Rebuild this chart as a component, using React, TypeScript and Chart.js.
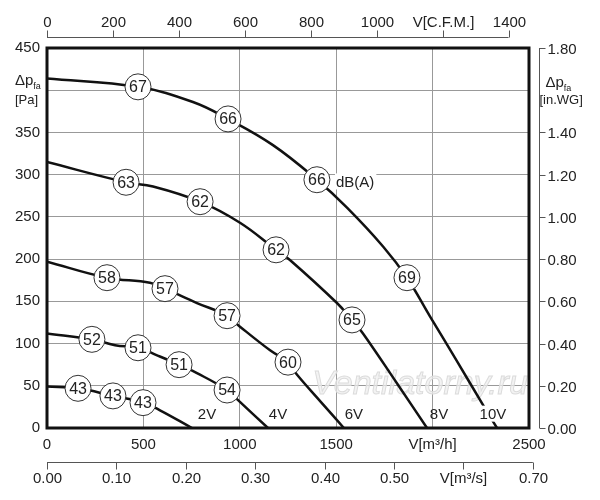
import React, { useEffect, useRef } from "react";
import { Chart, registerables } from "chart.js";

Chart.register(...registerables);

// Fan curves: air flow V [m³/h] against pressure Δp_fa [Pa], one curve per control voltage
const flow2V = [0, 161, 342, 498, 586, 752];
const pressure2V = [49, 47, 38, 30, 21, 0];
const flow4V = [0, 233, 353, 472, 571, 685, 778, 934, 991, 1146];
const pressure4V = [112, 105, 98, 95, 86, 75, 65, 45, 33, 0];
const flow6V = [0, 311, 534, 612, 778, 934, 1001, 1157, 1250, 1297, 1420, 1540];
const pressure6V = [197, 178, 172, 165, 148, 133, 120, 92, 78, 63, 31, 0];
const flow8V = [0, 410, 550, 794, 1001, 1188, 1260, 1504, 1582, 1639, 1815, 1971];
const pressure8V = [315, 291, 286, 268, 243, 211, 199, 148, 128, 112, 53, 0];
const flow10V = [0, 472, 757, 939, 1172, 1400, 1556, 1743, 1867, 1987, 2127, 2262, 2334];
const pressure10V = [414, 404, 386, 366, 335, 294, 261, 215, 178, 132, 79, 27, 0];

// sound level markers dB(A)
const dbLabelFlow = [472, 939, 1400, 1867, 410, 794, 1188, 1582, 311, 612, 934, 1250, 233, 472, 685, 934, 161, 342, 498];
const dbLabelPressure = [404, 366, 294, 178, 291, 268, 211, 128, 178, 165, 133, 78, 105, 95, 75, 45, 47, 38, 30];
const dbLabelValue = [67, 66, 66, 69, 63, 62, 62, 65, 58, 57, 57, 60, 52, 51, 51, 54, 43, 43, 43];

// voltage labels at the foot of each curve
const voltLabels = ["2V", "4V", "6V", "8V", "10V"];
const voltLabelFlow = [830, 1198, 1592, 2033, 2313];
const voltLabelPressure = 17;

// secondary axes
const cfmTicks = [0, 200, 400, 600, 800, 1000, 1200, 1400];
const m3sTicks = [0, 0.1, 0.2, 0.3, 0.4, 0.5, 0.6, 0.7];
const inwgTicks = [0, 0.2, 0.4, 0.6, 0.8, 1.0, 1.2, 1.4, 1.6, 1.8];
const M3H_PER_CFM = 1.71; // as plotted on the sheet
const M3H_PER_M3S = 3600;
const PA_PER_INWG = 250; // sheet aligns 0.20 in.WG with 50 Pa

const FONT = "Liberation Sans, Arial, sans-serif";
const TEXT = "#222";

const curves = [
  [flow2V, pressure2V],
  [flow4V, pressure4V],
  [flow6V, pressure6V],
  [flow8V, pressure8V],
  [flow10V, pressure10V],
];

const drawDp = (ctx, x, y) => {
  ctx.textAlign = "left";
  ctx.textBaseline = "middle";
  ctx.font = `15px ${FONT}`;
  ctx.fillText("Δp", x, y);
  const w = ctx.measureText("Δp").width;
  ctx.font = `9px ${FONT}`;
  ctx.fillText("fa", x + w, y + 5);
};

const overlay = {
  id: "overlay",
  beforeDatasetsDraw(chart) {
    const { ctx, chartArea, scales } = chart;
    ctx.save();
    // watermark
    ctx.font = `italic 34px ${FONT}`;
    ctx.textAlign = "center";
    ctx.textBaseline = "middle";
    const wx = scales.x.getPixelForValue(1935);
    const wy = scales.y.getPixelForValue(51);
    ctx.fillStyle = "rgba(238,238,238,0.7)";
    ctx.fillText("Ventilatorny.ru", wx, wy);
    ctx.strokeStyle = "#dcdcdc";
    ctx.lineWidth = 1;
    ctx.strokeText("Ventilatorny.ru", wx, wy);
    // heavy frame
    ctx.strokeStyle = "#111";
    ctx.lineWidth = 3;
    ctx.strokeRect(chartArea.left, chartArea.top, chartArea.right - chartArea.left, chartArea.bottom - chartArea.top);
    ctx.restore();
  },
  afterDatasetsDraw(chart) {
    const { ctx, scales } = chart;
    const xs = scales.x;
    const ys = scales.y;
    ctx.save();
    ctx.fillStyle = TEXT;
    ctx.textAlign = "center";
    ctx.textBaseline = "middle";
    ctx.font = `16px ${FONT}`;
    const meta = chart.getDatasetMeta(curves.length);
    meta.data.forEach((pt, i) => {
      ctx.fillText(String(dbLabelValue[i]), pt.x, pt.y + 1);
    });

    // "dB(A)" next to the third 10V marker
    ctx.font = `15px ${FONT}`;
    ctx.textAlign = "left";
    const dx = xs.getPixelForValue(1499);
    const dy = ys.getPixelForValue(292);
    const dw = ctx.measureText("dB(A)").width;
    ctx.fillStyle = "#fff";
    ctx.fillRect(dx - 1, dy - 8, dw + 3, 16);
    ctx.fillStyle = TEXT;
    ctx.fillText("dB(A)", dx, dy + 1);

    // voltage labels
    ctx.textAlign = "center";
    voltLabels.forEach((t, i) => {
      const px = xs.getPixelForValue(voltLabelFlow[i]);
      const py = ys.getPixelForValue(voltLabelPressure);
      if (t === "10V") {
        const w = ctx.measureText(t).width;
        ctx.fillStyle = "#fff";
        ctx.fillRect(px - w / 2 - 1, py - 8, w + 2, 16);
      }
      ctx.fillStyle = TEXT;
      ctx.fillText(t, px, py + 1);
    });
    ctx.restore();
  },
  afterDraw(chart) {
    const { ctx, chartArea, scales } = chart;
    const xs = scales.x;
    const ys = scales.y;
    ctx.save();
    ctx.strokeStyle = "#555";
    ctx.fillStyle = TEXT;
    ctx.lineWidth = 1;
    ctx.font = `15px ${FONT}`;

    // top axis V [C.F.M.]
    const topY = chartArea.top - 10.5;
    ctx.beginPath();
    ctx.moveTo(xs.getPixelForValue(0), topY);
    ctx.lineTo(xs.getPixelForValue(cfmTicks[cfmTicks.length - 1] * M3H_PER_CFM), topY);
    ctx.stroke();
    ctx.textAlign = "center";
    ctx.textBaseline = "middle";
    cfmTicks.forEach((v) => {
      const px = Math.round(xs.getPixelForValue(v * M3H_PER_CFM)) + 0.5;
      ctx.beginPath();
      ctx.moveTo(px, topY);
      ctx.lineTo(px, topY - 7);
      ctx.stroke();
      ctx.fillText(v === 1200 ? "V[C.F.M.]" : String(v), px, topY - 15);
    });

    // second bottom axis V [m³/s]
    const botY = chartArea.bottom + 34.5;
    ctx.beginPath();
    ctx.moveTo(xs.getPixelForValue(0), botY);
    ctx.lineTo(xs.getPixelForValue(m3sTicks[m3sTicks.length - 1] * M3H_PER_M3S), botY);
    ctx.stroke();
    m3sTicks.forEach((v) => {
      const px = Math.round(xs.getPixelForValue(v * M3H_PER_M3S)) + 0.5;
      ctx.beginPath();
      ctx.moveTo(px, botY);
      ctx.lineTo(px, botY + 7);
      ctx.stroke();
      ctx.fillText(Math.abs(v - 0.6) < 1e-9 ? "V[m³/s]" : v.toFixed(2), px, botY + 16);
    });

    // right axis Δp [in.WG]
    const rightX = chartArea.right + 10.5;
    ctx.beginPath();
    ctx.moveTo(rightX, ys.getPixelForValue(0));
    ctx.lineTo(rightX, ys.getPixelForValue(inwgTicks[inwgTicks.length - 1] * PA_PER_INWG));
    ctx.stroke();
    ctx.textAlign = "left";
    inwgTicks.forEach((v) => {
      const py = Math.round(ys.getPixelForValue(v * PA_PER_INWG)) + 0.5;
      if (Math.abs(v - 1.6) < 1e-9) return;
      ctx.beginPath();
      ctx.moveTo(rightX, py);
      ctx.lineTo(rightX + 6, py);
      ctx.stroke();
      ctx.fillText(v.toFixed(2), rightX + 8, py + 1);
    });

    // axis titles in place of the 400 Pa / 1.60 in.WG labels
    const tY = ys.getPixelForValue(400);
    drawDp(ctx, chartArea.left - 32, tY - 9);
    ctx.font = `13px ${FONT}`;
    ctx.fillText("[Pa]", chartArea.left - 32, tY + 10);
    drawDp(ctx, rightX + 6, tY - 7);
    ctx.font = `13px ${FONT}`;
    ctx.fillText("[in.WG]", rightX, tY + 10);
    ctx.restore();
  },
};

const App = () => {
  const canvasRef = useRef(null);

  useEffect(() => {
    document.body.style.margin = "0";
    const ctx = canvasRef.current.getContext("2d");

    const curveSets = curves.map(([flow, pres]) => ({
      type: "line",
      data: flow.map((x, i) => ({ x, y: pres[i] })),
      borderColor: "#111",
      borderWidth: 2.5,
      pointRadius: 0,
      tension: 0.4,
      fill: false,
      order: 2,
    }));

    const chart = new Chart(ctx, {
      type: "line",
      data: {
        datasets: [
          ...curveSets,
          {
            type: "scatter",
            data: dbLabelFlow.map((x, i) => ({ x, y: dbLabelPressure[i] })),
            pointRadius: 13,
            pointBackgroundColor: "#fff",
            pointBorderColor: "#333",
            pointBorderWidth: 1,
            order: 1,
          },
        ],
      },
      options: {
        responsive: false,
        animation: false,
        events: [],
        layout: { padding: { left: 0, right: 71, top: 48, bottom: 0 } },
        plugins: { legend: { display: false }, tooltip: { enabled: false } },
        scales: {
          x: {
            type: "linear",
            min: 0,
            max: 2500,
            ticks: {
              stepSize: 500,
              padding: 8,
              color: TEXT,
              font: { family: FONT, size: 15 },
              maxRotation: 0,
              callback: (v) => (v === 2000 ? "V[m³/h]" : v),
            },
            grid: { color: "#999", lineWidth: 1, drawTicks: false },
            border: { display: false },
            afterFit: (s) => {
              s.height = 72;
            },
          },
          y: {
            type: "linear",
            min: 0,
            max: 450,
            ticks: {
              stepSize: 50,
              padding: 7,
              color: TEXT,
              font: { family: FONT, size: 15 },
              callback: (v) => (v === 400 ? "" : v),
            },
            grid: { color: "#999", lineWidth: 1, drawTicks: false },
            border: { display: false },
            afterFit: (s) => {
              s.width = 47;
            },
          },
        },
      },
      plugins: [overlay],
    });

    return () => {
      chart.destroy();
    };
  }, []);

  return (
    <div style={{ width: "600px", height: "500px" }}>
      <canvas ref={canvasRef} width={600} height={500}></canvas>
    </div>
  );
};

export default App;
